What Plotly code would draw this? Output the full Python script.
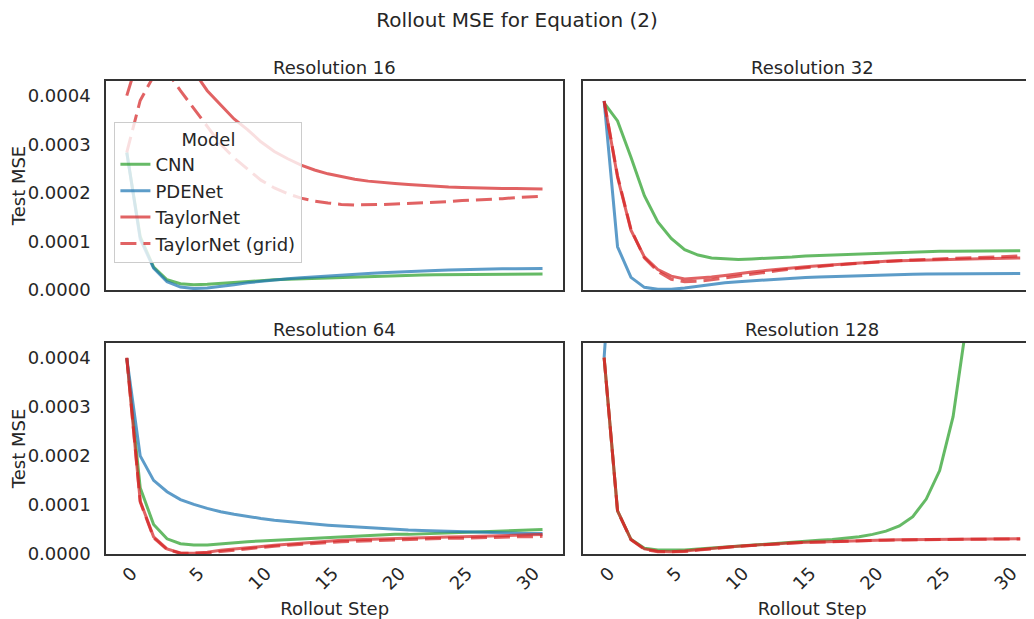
import plotly.graph_objects as go
from plotly.subplots import make_subplots

steps = list(range(32))
models = ["CNN", "PDENet", "TaylorNet", "TaylorNet (grid)"]
resolutions = ["Resolution 16", "Resolution 32", "Resolution 64", "Resolution 128"]

cnn16 = [0.000283, 0.000110, 0.000047, 0.000021, 0.000013, 0.000011, 0.000012, 0.000014, 0.000016, 0.000018,
         0.000020, 0.000021, 0.000022, 0.000023, 0.000024, 0.000025, 0.000026, 0.000027, 0.000028, 0.000029,
         0.000030, 0.0000305, 0.000031, 0.0000313, 0.0000316, 0.0000319, 0.0000322, 0.0000324, 0.0000326,
         0.0000328, 0.000033, 0.000033]
pde16 = [0.000283, 0.000105, 0.000045, 0.000017, 0.000006, 0.000003, 0.000004, 0.000007, 0.000011, 0.000015,
         0.000018, 0.000021, 0.000023, 0.000025, 0.000027, 0.000029, 0.000031, 0.000032, 0.000034, 0.0000355,
         0.000037, 0.000038, 0.000039, 0.000040, 0.000041, 0.000042, 0.0000425, 0.000043, 0.0000435, 0.000044,
         0.000044, 0.0000444]
tay16 = [0.000400, 0.000490, 0.000530, 0.000520, 0.000500, 0.000450, 0.000410, 0.000380, 0.000352, 0.000330,
         0.000305, 0.000285, 0.000270, 0.000257, 0.000247, 0.000239, 0.000233, 0.000228, 0.000224, 0.000221,
         0.000219, 0.000217, 0.000215, 0.000213, 0.000212, 0.000211, 0.000210, 0.000210, 0.000209, 0.000209,
         0.000208, 0.000208]
grid16 = [0.000283, 0.000390, 0.000440, 0.000450, 0.000410, 0.000374, 0.000337, 0.000300, 0.000272, 0.000248,
          0.000226, 0.000210, 0.000198, 0.000189, 0.000183, 0.000179, 0.000176, 0.000175, 0.000175, 0.000176,
          0.000177, 0.000178, 0.000180, 0.000181, 0.000182, 0.000184, 0.000185, 0.000187, 0.000188, 0.000190,
          0.000191, 0.000193]

cnn32 = [0.000385, 0.000348, 0.000273, 0.000194, 0.000140, 0.000106, 0.000083, 0.000072, 0.000066, 0.000064,
         0.000063, 0.000064, 0.000065, 0.000066, 0.000068, 0.000070, 0.000071, 0.000072, 0.000073, 0.000074,
         0.000076, 0.000077, 0.000078, 0.000078, 0.000079, 0.000080, 0.000080, 0.000080, 0.000081, 0.000081,
         0.000081, 0.000081]
pde32 = [0.000389, 0.000089, 0.000026, 0.0000055, 0.0000014, 0.0000014, 0.000004, 0.000008, 0.000012, 0.000015,
         0.000017, 0.000019, 0.000021, 0.000023, 0.000025, 0.000026, 0.000027, 0.000028, 0.000029, 0.000030,
         0.000031, 0.0000315, 0.000032, 0.0000325, 0.000033, 0.000033, 0.0000333, 0.0000335, 0.0000337,
         0.0000338, 0.000034, 0.000034]
tay32 = [0.000389, 0.000232, 0.000123, 0.000068, 0.000042, 0.0000286, 0.0000225, 0.000024, 0.000027, 0.000030,
         0.000034, 0.000037, 0.000040, 0.000043, 0.000046, 0.000048, 0.000050, 0.000052, 0.000054, 0.000056,
         0.000058, 0.000059, 0.000060, 0.000061, 0.000062, 0.000063, 0.0000635, 0.000064, 0.0000645, 0.000065,
         0.000065, 0.000066]
grid32 = [0.000389, 0.000235, 0.000125, 0.000066, 0.000038, 0.000022, 0.000017, 0.000018, 0.000021, 0.000025,
          0.000029, 0.000033, 0.000037, 0.000040, 0.000043, 0.000046, 0.000049, 0.000051, 0.000053, 0.000055,
          0.000057, 0.000059, 0.000060, 0.000062, 0.000063, 0.000064, 0.000065, 0.000066, 0.000067, 0.000068,
          0.000069, 0.000070]

cnn64 = [0.000399, 0.000135, 0.000060, 0.000031, 0.000021, 0.0000185, 0.0000185, 0.000021, 0.000023, 0.000025,
         0.0000267, 0.000028, 0.000030, 0.000031, 0.000033, 0.000034, 0.000035, 0.000036, 0.000037, 0.000039,
         0.000040, 0.000040, 0.000041, 0.000042, 0.000042, 0.000043, 0.000044, 0.000045, 0.000046, 0.000047,
         0.000048, 0.000050]
pde64 = [0.000399, 0.000200, 0.000150, 0.000127, 0.000111, 0.000101, 0.000093, 0.000086, 0.000081, 0.000076,
         0.0000725, 0.000069, 0.000066, 0.000063, 0.000061, 0.0000588, 0.000057, 0.000055, 0.0000535, 0.000052,
         0.0000506, 0.000049, 0.000048, 0.000047, 0.000046, 0.0000451, 0.000044, 0.0000435, 0.000043, 0.0000425,
         0.000042, 0.0000417]
tay64 = [0.000399, 0.000108, 0.000035, 0.0000103, 0.000002, 0.0000014, 0.0000034, 0.0000075, 0.000010, 0.000013,
         0.0000157, 0.000018, 0.000020, 0.000022, 0.000025, 0.0000267, 0.000028, 0.000029, 0.000030, 0.000031,
         0.0000315, 0.000032, 0.000033, 0.000034, 0.0000345, 0.0000349, 0.000036, 0.000037, 0.000037, 0.000038,
         0.000039, 0.0000397]
grid64 = [0.000400, 0.000106, 0.000033, 0.000009, 0.0000015, 0.000001, 0.000002, 0.000005, 0.000008, 0.000011,
          0.0000135, 0.000016, 0.000018, 0.000020, 0.000022, 0.000024, 0.000025, 0.000026, 0.000027, 0.000028,
          0.000029, 0.000030, 0.000030, 0.000031, 0.000032, 0.000032, 0.000033, 0.000034, 0.000034, 0.000035,
          0.000035, 0.000036]

cnn128 = [0.000400, 0.0000878, 0.000030, 0.0000117, 0.0000082, 0.0000075, 0.000008, 0.000010, 0.000012, 0.0000145,
          0.000017, 0.000019, 0.0000213, 0.000023, 0.0000245, 0.000026, 0.000028, 0.0000295, 0.000032, 0.000035,
          0.000040, 0.0000467, 0.000057, 0.0000762, 0.000112, 0.000170, 0.000280, 0.000470, 0.000800, 0.001500,
          0.003000, 0.006000]
pde128 = [0.000400, 0.000680, 0.001200, 0.002000, 0.003500, 0.006000, 0.009000, 0.013000, 0.018000, 0.024000,
          0.030000, 0.037000, 0.045000, 0.053000, 0.062000, 0.071000, 0.080000, 0.090000, 0.100000, 0.110000,
          0.120000, 0.130000, 0.140000, 0.150000, 0.160000, 0.170000, 0.180000, 0.190000, 0.200000, 0.210000,
          0.220000, 0.230000]
tay128 = [0.000400, 0.0000878, 0.0000295, 0.0000103, 0.0000055, 0.0000048, 0.000006, 0.0000089, 0.0000117, 0.000014,
          0.0000158, 0.000018, 0.000020, 0.000021, 0.000023, 0.000024, 0.000025, 0.000026, 0.000027, 0.0000275,
          0.0000281, 0.0000285, 0.000029, 0.0000293, 0.0000297, 0.0000302, 0.0000304, 0.0000306, 0.0000307,
          0.0000308, 0.0000309, 0.0000309]
grid128 = [0.000400, 0.000087, 0.000029, 0.0000095, 0.0000045, 0.000004, 0.000005, 0.000008, 0.000011, 0.0000135,
           0.0000155, 0.0000175, 0.0000195, 0.0000207, 0.000022, 0.0000235, 0.0000245, 0.0000255, 0.0000265,
           0.000027, 0.0000277, 0.0000282, 0.0000287, 0.000029, 0.0000295, 0.000030, 0.0000302, 0.0000304,
           0.0000306, 0.0000307, 0.0000308, 0.0000308]

y_ticks = [0.0, 0.0001, 0.0002, 0.0003, 0.0004]
x_ticks = [0, 5, 10, 15, 20, 25, 30]

panel_data = [
    [cnn16, pde16, tay16, grid16],
    [cnn32, pde32, tay32, grid32],
    [cnn64, pde64, tay64, grid64],
    [cnn128, pde128, tay128, grid128],
]
colors = ["#2ca02c", "#1f77b4", "#d62728", "#d62728"]
dashes = ["solid", "solid", "solid", "16px,7px"]

TEXT = "#262626"
FONT = "DejaVu Sans"
FS = 18

fig = make_subplots(rows=2, cols=2, shared_xaxes=True, shared_yaxes=True)

for p, series in enumerate(panel_data):
    r, c = p // 2 + 1, p % 2 + 1
    for m, vals in enumerate(series):
        fig.add_trace(go.Scatter(
            x=steps, y=vals, mode="lines", name=models[m],
            legendgroup=models[m], showlegend=(p == 0),
            line=dict(color=colors[m], width=3, dash=dashes[m]),
            opacity=0.72,
        ), row=r, col=c)

xdoms = [[0.0, 0.4891], [0.5105, 1.0]]
ydoms = [[0.5581, 1.0], [0.0, 0.4461]]

axis_common = dict(showline=True, linecolor="#333333", linewidth=1.5, mirror=True,
                   showgrid=False, zeroline=False, ticks="", automargin=False,
                   tickfont=dict(family=FONT, size=FS, color=TEXT))

fig.update_xaxes(range=[-1.55, 32.55], tickvals=x_ticks, tickangle=-45, ticklabelshift=5, **axis_common)
fig.update_yaxes(range=[0, 0.00043], tickvals=y_ticks, tickformat=".4f", ticklabelstandoff=10, **axis_common)

for r in (1, 2):
    for c in (1, 2):
        fig.update_xaxes(domain=xdoms[c - 1], row=r, col=c)
        fig.update_yaxes(domain=ydoms[r - 1], row=r, col=c)

for c in (1, 2):
    fig.update_xaxes(title=dict(text="Rollout Step", font=dict(family=FONT, size=FS, color=TEXT), standoff=10),
                     row=2, col=c)
for r in (1, 2):
    fig.update_yaxes(title=dict(text="Test MSE", font=dict(family=FONT, size=FS, color=TEXT), standoff=6),
                     row=r, col=1)

annotations = []
for p, name in enumerate(resolutions):
    r, c = p // 2, p % 2
    annotations.append(dict(
        text=name, xref="paper", yref="paper",
        x=(xdoms[c][0] + xdoms[c][1]) / 2, y=ydoms[r][1],
        xanchor="center", yanchor="bottom", yshift=1, showarrow=False,
        font=dict(family=FONT, size=FS, color=TEXT)))

fig.update_layout(
    annotations=annotations,
    width=1034, height=611,
    margin=dict(l=98, r=1, t=73, b=65),
    paper_bgcolor="white", plot_bgcolor="white",
    font=dict(family=FONT, color=TEXT),
    title=dict(text="Rollout MSE for Equation (2)", x=0.4923, xanchor="center", y=0.980, yanchor="middle",
               font=dict(family=FONT, size=20, color=TEXT)),
    legend=dict(x=0.009, y=0.914, xanchor="left", yanchor="top",
                bgcolor="rgba(255,255,255,0.8)", bordercolor="#cccccc", borderwidth=1,
                font=dict(family=FONT, size=FS, color=TEXT),
                title=dict(text="Model", side="top center", font=dict(family=FONT, size=FS, color=TEXT)),
                tracegroupgap=0),
)

fig.write_html("out.html")
